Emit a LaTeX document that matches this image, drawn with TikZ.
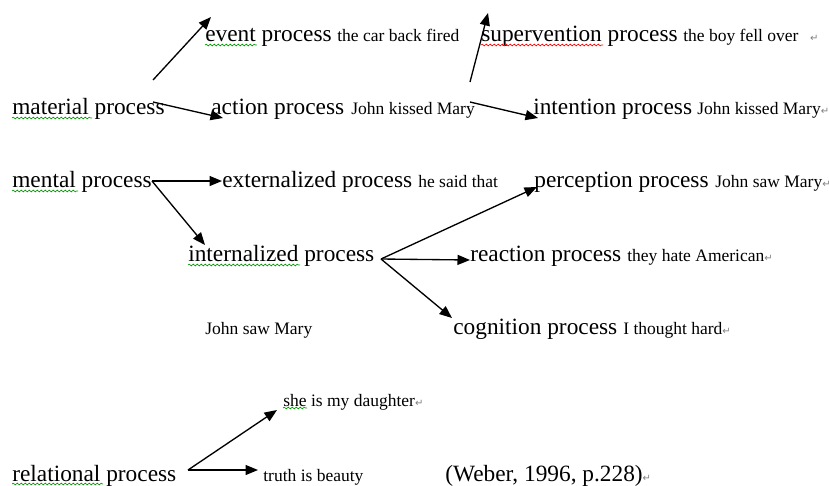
\documentclass[tikz,border=0pt]{standalone}
\usepackage{fontspec}
\setmainfont{Liberation Serif}
\newfontfamily\markfont{DejaVu Sans}
\usetikzlibrary{arrows.meta, decorations.pathmorphing}

\newcommand{\pmark}{{\markfont\color{gray}\fontsize{6}{7}\selectfont ↵}}

\begin{document}
\begin{tikzpicture}[x=0.6pt, y=-0.6pt,
  big/.style={font=\fontsize{14}{16}\selectfont, anchor=base west, inner sep=0pt},
  small/.style={font=\fontsize{10.5}{12}\selectfont, anchor=base west, inner sep=0pt},
  arr/.style={line width=0.8pt, -{Triangle[length=7.5pt, width=6pt]}},
  wavy/.style={line width=0.4pt, decorate, decoration={snake, amplitude=0.5pt, segment length=2.4pt}}]
\useasboundingbox (0,0) rectangle (829,485);

% Material processes
\node[big] (material) at (12,114) {material process};
\node[big] (event) at (205,41) {event process};
\node[small] (eventex) at (337,41) {the car back fired};
\node[big] (action) at (211,114) {action process};
\node[small] (actionex) at (351,114) {John kissed Mary};
\node[big] (superv) at (481,41) {supervention process};
\node[small] (supervex) at (683,41) {the boy fell over\hspace{7pt}\pmark};
\node[big] (intent) at (533,114) {intention process};
\node[small] (intentex) at (697,114) {John kissed Mary\pmark};

% Mental processes
\node[big] (mental) at (12,187) {mental process};
\node[big] (extern) at (222,187) {externalized process};
\node[small] (externex) at (418,187) {he said that};
\node[big] (intern) at (188,261) {internalized process};
\node[small] (internex) at (205,334) {John saw Mary};
\node[big] (percep) at (534,187) {perception process};
\node[small] (percepex) at (715,187) {John saw Mary\pmark};
\node[big] (react) at (470,261) {reaction process};
\node[small] (reactex) at (627,261) {they hate American\pmark};
\node[big] (cognit) at (453,334) {cognition process};
\node[small] (cognitex) at (623,334) {I thought hard\pmark};

% Relational processes
\node[big] (relation) at (12,481) {relational process};
\node[small] (she) at (283,406) {she is my daughter\pmark};
\node[small] (truth) at (263,481) {truth is beauty};
\node[big] (source) at (445,481) {(Weber, 1996, p.228)\pmark};

% Arrows
\draw[arr] ([shift={(141,-34)}]material.base west) -- ([shift={(6,-24)}]event.base west);
\draw[arr] ([shift={(141,-12)}]material.base west) -- ([shift={(12,4)}]action.base west);
\draw[arr] ([shift={(259,-32)}]action.base west) -- ([shift={(7,-28)}]superv.base west);
\draw[arr] ([shift={(259,-12)}]action.base west) -- ([shift={(5,4)}]intent.base west);
\draw[arr] ([shift={(140,-6)}]mental.base west) -- ([shift={(0,-6)}]extern.base west);
\draw[arr] ([shift={(140,-6)}]mental.base west) -- ([shift={(17,-16)}]intern.base west);
\draw[arr] ([shift={(193,-2)}]intern.base west) -- ([shift={(3,0)}]percep.base west);
\draw[arr] ([shift={(193,-2)}]intern.base west) -- ([shift={(0,-1)}]react.base west);
\draw[arr] ([shift={(193,-2)}]intern.base west) -- ([shift={(-1,-16)}]cognit.base west);
\draw[arr] ([shift={(176,-11)}]relation.base west) -- ([shift={(-6,4)}]she.base west);
\draw[arr] ([shift={(176,-11)}]relation.base west) -- ([shift={(-5,-11)}]truth.base west);

% Spelling marks
\draw[wavy, green!60!black] ([shift={(0,4)}]material.base west) -- ++(80,0);
\draw[wavy, green!60!black] ([shift={(0,4)}]event.base west) -- ++(52,0);
\draw[wavy, red] ([shift={(0,4)}]superv.base west) -- ++(122,0);
\draw[wavy, green!60!black] ([shift={(0,4)}]mental.base west) -- ++(66,0);
\draw[wavy, green!60!black] ([shift={(0,4)}]intern.base west) -- ++(112,0);
\draw[wavy, green!60!black] ([shift={(0,2)}]she.base west) -- ++(24,0);
\draw[wavy, green!60!black] ([shift={(0,3)}]relation.base west) -- ++(91,0);
\end{tikzpicture}
\end{document}
